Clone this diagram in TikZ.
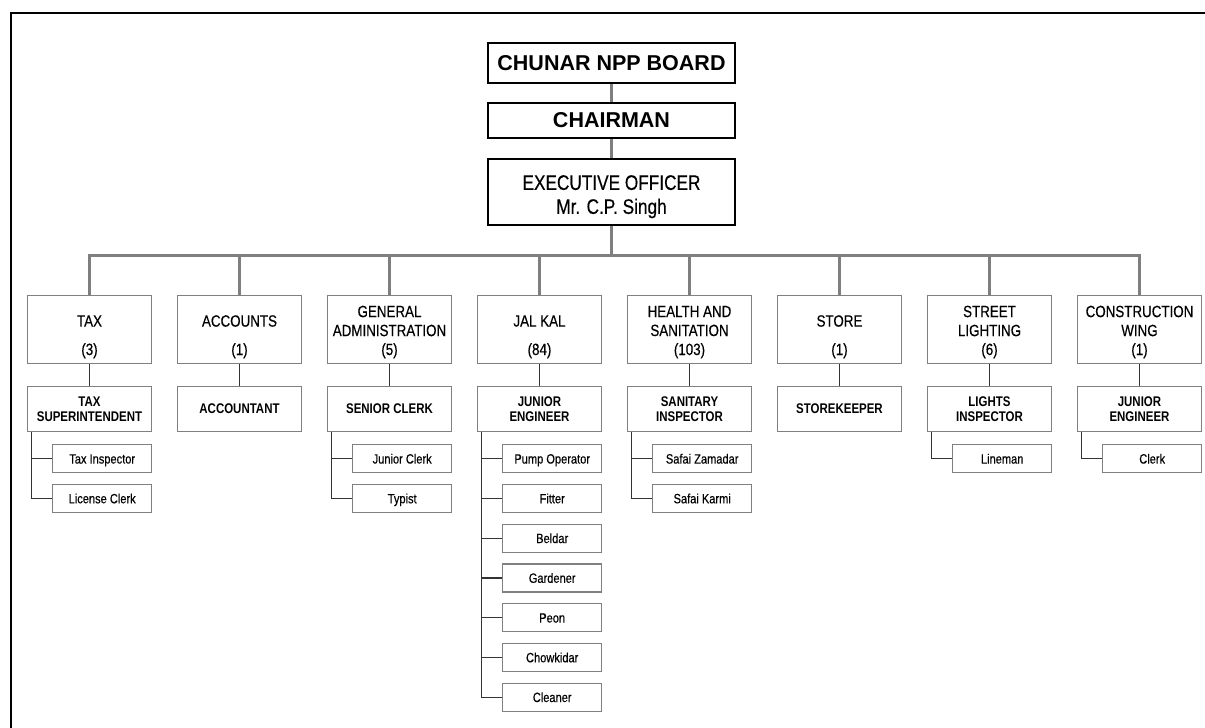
\documentclass[tikz,border=0pt]{standalone}
\usepackage{fontspec}
\setmainfont{Liberation Sans}
\newfontfamily\narrowfont[FakeStretch=0.82]{Liberation Sans}
\newfontfamily\narrowmed[FakeStretch=0.82,FakeBold=0.35]{Liberation Sans}
\usetikzlibrary{calc}

\definecolor{boxgray}{HTML}{808080}
\definecolor{busgray}{HTML}{7F7F7F}
\definecolor{linkdark}{HTML}{333333}

\tikzset{
  topbox/.style={draw=black, line width=1.8pt, inner sep=0pt, minimum width=247pt,
    font=\bfseries\fontsize{21.5}{24}\selectfont},
  extext/.style={inner sep=0pt, align=center, font=\narrowmed\fontsize{21}{24}\selectfont},
  deptbox/.style={draw=boxgray, line width=1.4pt, inner sep=0pt, minimum width=124pt, minimum height=68pt},
  deptname/.style={inner sep=0pt, align=center, font=\narrowmed\fontsize{16.3}{19}\selectfont},
  deptnum/.style={inner sep=0pt, font=\narrowmed\fontsize{16.3}{19}\selectfont},
  subbox/.style={draw=boxgray, line width=1.4pt, inner sep=0pt, minimum width=124pt, minimum height=45pt,
    align=center, font=\narrowfont\bfseries\fontsize{14}{15}\selectfont},
  leafbox/.style={draw=boxgray, line width=1.2pt, inner sep=0pt, minimum width=99pt, minimum height=28pt,
    text height=9.7pt, text depth=0pt, font=\narrowmed\fontsize{13.5}{15}\selectfont},
  busline/.style={draw=busgray, line width=3pt},
  sublink/.style={draw=linkdark, line width=1.3pt},
  treelink/.style={draw=linkdark, line width=1.2pt},
  frameline/.style={draw=black, line width=2pt},
}

\begin{document}
\begin{tikzpicture}[x=1pt,y=-1pt]
\useasboundingbox (0,0) rectangle (1205,728);

% page frame (top and left edges)
\draw[frameline] (10.5,728) -- (10.5,12.5) -- (1205,12.5);

% top of the hierarchy
\node[topbox, minimum height=40pt] (board) at (611.5,63) {CHUNAR NPP BOARD};
\node[topbox, minimum height=35pt] (chair) at (611.5,120.5) {CHAIRMAN};
\node[topbox, minimum height=66pt] (exec) at (611.5,192) {};
\node[extext, anchor=north] (exectext) at (611.5,175) {EXECUTIVE OFFICER\\Mr. C.P. Singh};

\draw[busline] (board.south) -- (chair.north);
\draw[busline] (chair.south) -- (exec.north);
\coordinate (bus) at (611,255);
\draw[busline] (exec.south -| bus) -- (bus);

% departments with their heads
\foreach \k/\id/\name/\num/\sub in {
  0/tax/TAX/3/{TAX\\SUPERINTENDENT},
  1/acc/ACCOUNTS/1/ACCOUNTANT,
  2/gen/{GENERAL\\ADMINISTRATION}/5/SENIOR CLERK,
  3/jal/JAL KAL/84/{JUNIOR\\ENGINEER},
  4/hlt/{HEALTH AND\\SANITATION}/103/{SANITARY\\INSPECTOR},
  5/sto/STORE/1/STOREKEEPER,
  6/str/{STREET\\LIGHTING}/6/{LIGHTS\\INSPECTOR},
  7/con/{CONSTRUCTION\\WING}/1/{JUNIOR\\ENGINEER}} {
  \node[deptbox] (\id) at ({89.5+150*\k},329.5) {};
  \node[deptname] (\id-t) at ({89.5+150*\k},321) {\name};
  \node[deptnum, anchor=base] (\id-n) at ({89.5+150*\k},355) {(\num)};
  \node[subbox] (\id-s) at ({89.5+150*\k},409) {\sub};
  \draw[busline] (bus) -| (\id.north);
  \draw[sublink] (\id.south) -- (\id-s.north);
}

% staff under each head
\foreach \id/\j/\txt in {
  tax/0/Tax Inspector, tax/1/License Clerk,
  gen/0/Junior Clerk, gen/1/Typist,
  jal/0/Pump Operator, jal/1/Fitter, jal/2/Beldar, jal/3/Gardener,
  jal/4/Peon, jal/5/Chowkidar, jal/6/Cleaner,
  hlt/0/Safai Zamadar, hlt/1/Safai Karmi,
  str/0/Lineman,
  con/0/Clerk} {
  \node[leafbox] (\id-l\j) at ($(\id-s.south east)+(-50,26.5+39.75*\j)$) {\txt};
  \draw[treelink] ([xshift=5pt]\id-s.south west) |- (\id-l\j.west);
}
\end{tikzpicture}
\end{document}
